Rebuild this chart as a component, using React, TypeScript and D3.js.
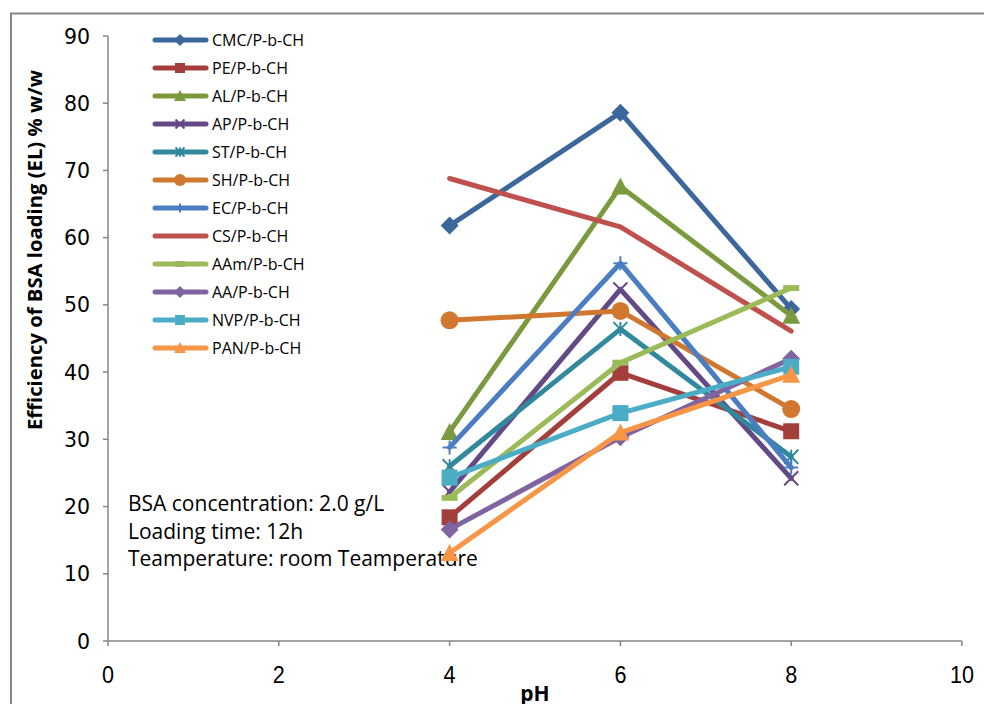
import React from "react";
import * as d3 from "d3";

const pHValues = [4, 6, 8];
const seriesNames = [
  "CMC/P-b-CH", "PE/P-b-CH", "AL/P-b-CH", "AP/P-b-CH", "ST/P-b-CH", "SH/P-b-CH",
  "EC/P-b-CH", "CS/P-b-CH", "AAm/P-b-CH", "AA/P-b-CH", "NVP/P-b-CH", "PAN/P-b-CH",
];
const CMC = [61.8, 78.6, 49.4];
const PE = [18.4, 39.9, 31.2];
const AL = [31.1, 67.6, 48.4];
const AP = [22.2, 52.3, 24.2];
const ST = [26.0, 46.4, 27.4];
const SH = [47.7, 49.1, 34.5];
const EC = [28.8, 56.2, 25.8];
const CS = [68.8, 61.6, 46.1];
const AAm = [21.3, 41.4, 52.5];
const AA = [16.6, 30.3, 42.0];
const NVP = [24.3, 33.9, 40.8];
const PAN = [13.1, 31.0, 39.6];
const seriesValues = [CMC, PE, AL, AP, ST, SH, EC, CS, AAm, AA, NVP, PAN];
const colors = [
  "#3C679C", "#A33E3B", "#7A9A3E", "#634985", "#31899E", "#D0782F",
  "#4A7DC1", "#C0504D", "#9BBB59", "#8064A2", "#4BACC6", "#F79646",
];
const markers = ["diamond", "square", "triangle", "x", "asterisk", "circle", "plus", "none", "dash", "diamond", "square", "triangle"];
const xTicks = [0, 2, 4, 6, 8, 10];
const yTicks = [0, 10, 20, 30, 40, 50, 60, 70, 80, 90];
const notes = ["BSA concentration: 2.0 g/L", "Loading time: 12h", "Teamperature: room Teamperature"];

function Marker({ type, x, y, color, s }: { type: string; x: number; y: number; color: string; s: number }) {
  const h = s / 2;
  switch (type) {
    case "diamond":
      return <path d={`M${x},${y - h - 1}L${x + h + 1},${y}L${x},${y + h + 1}L${x - h - 1},${y}Z`} fill={color} />;
    case "square":
      return <rect x={x - h} y={y - h} width={s} height={s} fill={color} />;
    case "triangle":
      return <path d={`M${x},${y - h - 1}L${x + h + 1},${y + h}L${x - h - 1},${y + h}Z`} fill={color} />;
    case "circle":
      return <circle cx={x} cy={y} r={h + 1} fill={color} />;
    case "x":
      return <path d={`M${x - h},${y - h}L${x + h},${y + h}M${x - h},${y + h}L${x + h},${y - h}`} stroke={color} strokeWidth={2} />;
    case "plus":
      return <path d={`M${x - h},${y}L${x + h},${y}M${x},${y - h}L${x},${y + h}`} stroke={color} strokeWidth={2} />;
    case "asterisk":
      return <path d={`M${x - h},${y - h}L${x + h},${y + h}M${x - h},${y + h}L${x + h},${y - h}M${x},${y - h}L${x},${y + h}`} stroke={color} strokeWidth={2} />;
    case "dash":
      return <rect x={x - h} y={y - 3} width={s} height={6} fill={color} />;
    default:
      return null;
  }
}

export default function App() {
  const W = 984, H = 704;
  const x = d3.scaleLinear().domain([0, 10]).range([108, 962]);
  const y = d3.scaleLinear().domain([0, 90]).range([641, 36]);
  const line = d3.line<[number, number]>().x((d) => x(d[0])).y((d) => y(d[1]));
  const axisColor = "#868686";
  const font = "'Open Sans', 'DejaVu Sans', sans-serif";

  return (
    <svg width={W} height={H} style={{ position: "absolute", left: 0, top: 0 }}>
      <rect x={0} y={0} width={W} height={H} fill="#fff" />
      <path d={`M11,${H}V13.5H${W}`} fill="none" stroke={axisColor} strokeWidth={2} />
      {/* axes */}
      <line x1={x(0)} x2={x(10)} y1={y(0)} y2={y(0)} stroke={axisColor} strokeWidth={1.5} />
      <line x1={x(0)} x2={x(0)} y1={y(0)} y2={y(90)} stroke={axisColor} strokeWidth={1.5} />
      {yTicks.map((t) => (
        <g key={"y" + t}>
          <line x1={x(0) - 5} x2={x(0)} y1={y(t)} y2={y(t)} stroke={axisColor} strokeWidth={1.5} />
          <text x={x(0) - 18} y={y(t) + 7.5} textAnchor="end" fontFamily="'DejaVu Sans', sans-serif" fontSize={20.5} fill="#000">{t}</text>
        </g>
      ))}
      {xTicks.map((t) => (
        <g key={"x" + t}>
          <line x1={x(t)} x2={x(t)} y1={y(0)} y2={y(0) + 5} stroke={axisColor} strokeWidth={1.5} />
          <text x={x(t)} y={y(0) + 42} textAnchor="middle" fontFamily="'Liberation Sans', sans-serif" fontSize={24} fill="#000" transform={`translate(${x(t)},0) scale(0.9,1) translate(${-x(t)},0)`}>{t}</text>
        </g>
      ))}
      <text x={535} y={701} textAnchor="middle" fontFamily={font} fontWeight="bold" fontSize={21}>pH</text>
      <text transform="translate(42,250) rotate(-90)" textAnchor="middle" fontFamily={font} fontWeight="bold" fontSize={20} textLength={360} lengthAdjust="spacingAndGlyphs">Efficiency of BSA loading (EL) % w/w</text>
      {/* notes */}
      {notes.map((n, i) => (
        <text key={n} x={128} y={511 + i * 27.5} fontFamily={font} fontSize={21} fill="#000">{n}</text>
      ))}
      {/* series */}
      {seriesValues.map((vals, i) => {
        const pts: [number, number][] = pHValues.map((p, j) => [p, vals[j]]);
        return (
          <g key={seriesNames[i]}>
            <path d={line(pts) || ""} fill="none" stroke={colors[i]} strokeWidth={5} strokeLinejoin="round" strokeLinecap="round" />
            {pts.map((p, j) => (
              <Marker key={j} type={markers[i]} x={x(p[0])} y={y(p[1])} color={colors[i]} s={markers[i] === "x" || markers[i] === "plus" || markers[i] === "asterisk" ? 14 : 16} />
            ))}
          </g>
        );
      })}
      {/* legend */}
      {seriesNames.map((n, i) => {
        const ly = 40 + i * 28;
        return (
          <g key={"lg" + n}>
            <line x1={155} x2={206} y1={ly} y2={ly} stroke={colors[i]} strokeWidth={5} strokeLinecap="round" />
            <Marker type={markers[i]} x={180} y={ly} color={colors[i]} s={markers[i] === "x" || markers[i] === "plus" || markers[i] === "asterisk" ? 9 : 10} />
            <text x={212} y={ly + 5.5} fontFamily={font} fontSize={16} fill="#000">{n}</text>
          </g>
        );
      })}
    </svg>
  );
}
